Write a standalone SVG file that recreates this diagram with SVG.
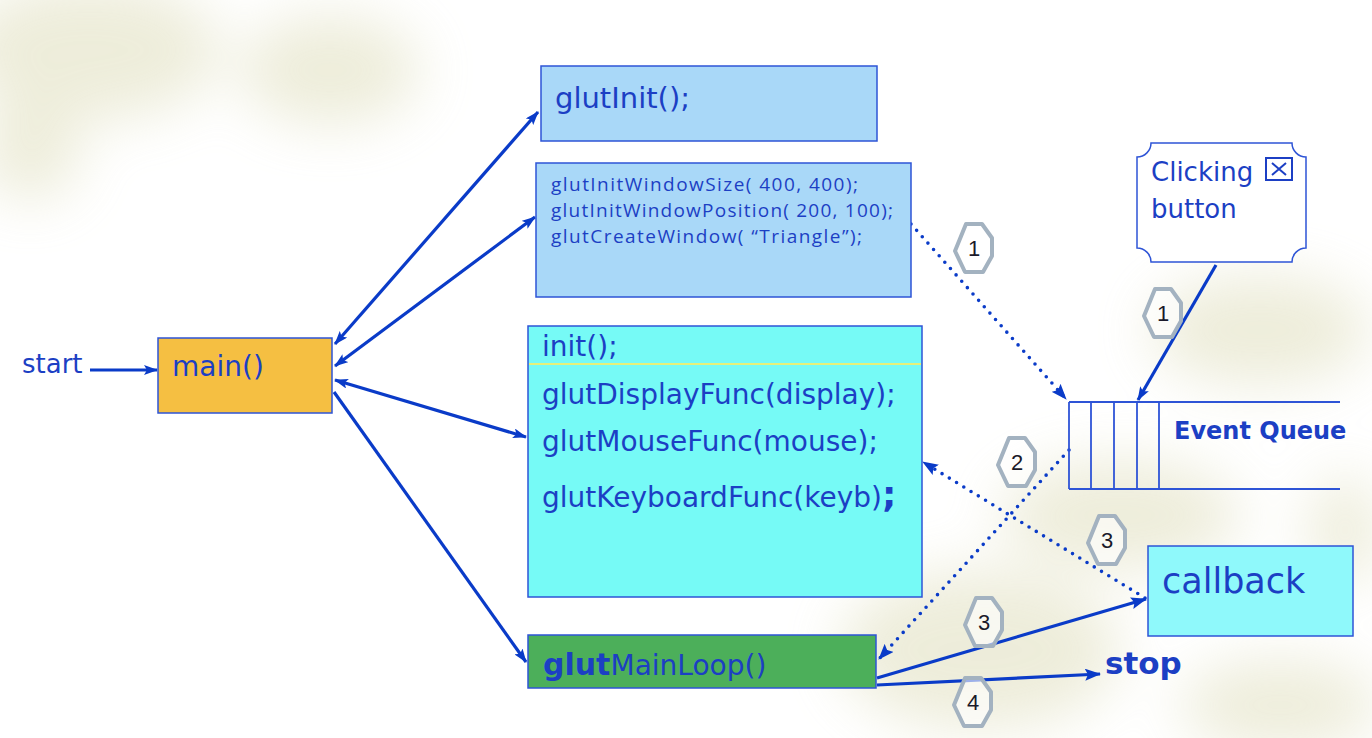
<svg xmlns="http://www.w3.org/2000/svg" width="1372" height="738" viewBox="0 0 1372 738">
<style>
.t{font-family:"DejaVu Sans",Verdana,sans-serif;fill:#1c3fc4}
.s{font-family:"Open Sans","DejaVu Sans",sans-serif;fill:#1c3fc4;font-size:19px}
.box{stroke:#2e54d6;stroke-width:1.5}
.solid{stroke:#0a3bc8;stroke-width:3.2;fill:none}
.dot{stroke:#0a3bc8;stroke-width:3.6;fill:none;stroke-dasharray:0 8.5;stroke-linecap:round}
.hept{fill:#ffffff;fill-opacity:0.6;stroke:#a3b2c0;stroke-width:4;stroke-linejoin:round}
.num{font-family:"Liberation Sans",Arial,sans-serif;font-size:22px;fill:#1a1a2a;text-anchor:middle}
</style>
<defs>
<marker id="ah" viewBox="0 0 14 10" refX="13" refY="5" markerWidth="14" markerHeight="10" markerUnits="userSpaceOnUse" orient="auto-start-reverse">
<path d="M0,0 L14,5 L0,10 L3,5 Z" fill="#0a3bc8"/>
</marker>
<marker id="ahd" viewBox="0 0 16 12" refX="15" refY="6" markerWidth="16" markerHeight="12" markerUnits="userSpaceOnUse" orient="auto">
<path d="M0,0 L16,6 L0,12 L3,6 Z" fill="#0a3bc8"/>
</marker>
<filter id="blur" x="-50%" y="-50%" width="200%" height="200%"><feGaussianBlur stdDeviation="28"/></filter>
<polygon id="hg" points="-8,-24 8,-24 18,-10 18,8 9,24 -9,24 -19,3"/>
</defs>
<rect width="1372" height="738" fill="#ffffff"/>
<g id="background" filter="url(#blur)" fill="#d6d4a8" opacity="0.42">
<ellipse cx="90" cy="50" rx="130" ry="70"/>
<ellipse cx="330" cy="70" rx="90" ry="55"/>
<ellipse cx="30" cy="150" rx="50" ry="50"/>
<ellipse cx="1260" cy="330" rx="110" ry="55"/>
<ellipse cx="1120" cy="515" rx="120" ry="55"/>
<ellipse cx="980" cy="650" rx="140" ry="80"/>
<ellipse cx="1280" cy="705" rx="100" ry="45"/>
<ellipse cx="1345" cy="530" rx="35" ry="55"/>
</g>

<g id="connectors">
<line class="solid" x1="90" y1="370" x2="157" y2="370" marker-end="url(#ah)"/>
<line class="solid" x1="335" y1="344" x2="538" y2="112" marker-start="url(#ah)" marker-end="url(#ah)"/>
<line class="solid" x1="335" y1="366" x2="535" y2="217" marker-start="url(#ah)" marker-end="url(#ah)"/>
<line class="solid" x1="335" y1="380" x2="526" y2="437" marker-start="url(#ah)" marker-end="url(#ah)"/>
<line class="solid" x1="334" y1="392" x2="526" y2="662" marker-end="url(#ah)"/>
<line class="solid" x1="1216" y1="265" x2="1138" y2="400" marker-end="url(#ah)"/>
<line class="solid" x1="877" y1="678" x2="1146" y2="599" marker-end="url(#ahd)"/>
<line class="solid" x1="877" y1="685" x2="1100" y2="674" marker-end="url(#ahd)"/>
<line class="dot" x1="911" y1="224" x2="1066" y2="399" marker-end="url(#ahd)"/>
<line class="dot" x1="1069" y1="450" x2="879" y2="659" marker-end="url(#ahd)"/>
<line class="dot" x1="1145" y1="598" x2="923" y2="462" marker-end="url(#ahd)"/>
</g>

<g id="start"><text class="t" x="22" y="373" font-size="26">start</text></g>

<g id="main">
<rect class="box" x="158" y="338" width="174" height="75" fill="#f5bf42"/>
<text class="t" x="172" y="376" font-size="28">main()</text>
</g>

<g id="glutInit">
<rect class="box" x="541" y="66" width="336" height="75" fill="#a9d8f8"/>
<text class="t" x="555" y="108" font-size="29">glutInit();</text>
</g>

<g id="window">
<rect class="box" x="536" y="163" width="375" height="134" fill="#a9d8f8"/>
<text class="s" x="551" y="191" textLength="307">glutInitWindowSize( 400, 400);</text>
<text class="s" x="551" y="217" textLength="342">glutInitWindowPosition( 200, 100);</text>
<text class="s" x="551" y="243" textLength="311">glutCreateWindow( “Triangle”);</text>
</g>

<g id="callbacks">
<rect class="box" x="528" y="326" width="394" height="271" fill="#76faf6"/>
<line x1="529" y1="364" x2="921" y2="364" stroke="#e6f07a" stroke-width="2"/>
<text class="t" x="542" y="356" font-size="28">init();</text>
<text class="t" x="542" y="404" font-size="28">glutDisplayFunc(display);</text>
<text class="t" x="542" y="451" font-size="28">glutMouseFunc(mouse);</text>
<text class="t" x="542" y="507" font-size="28">glutKeyboardFunc(keyb)<tspan font-size="36" font-weight="bold">;</tspan></text>
</g>

<g id="mainloop">
<rect class="box" x="528" y="635" width="348" height="53" fill="#4caf5a"/>
<text class="t" x="543" y="675" font-size="28"><tspan font-weight="bold" font-size="30">glut</tspan>MainLoop()</text>
</g>

<g id="clicking">
<path class="box" fill="#ffffff" d="M1151,143 L1292,143 A14,14 0 0 0 1306,157 L1306,248 A14,14 0 0 0 1292,262 L1151,262 A14,14 0 0 0 1137,248 L1137,157 A14,14 0 0 0 1151,143 Z"/>
<text class="t" x="1151" y="181" font-size="26">Clicking</text>
<text class="t" x="1151" y="218" font-size="26">button</text>
<rect x="1266" y="158" width="26" height="22" fill="none" stroke="#1c3fc4" stroke-width="2"/>
<path d="M1272,163 L1286,175 M1286,163 L1272,175" stroke="#1c3fc4" stroke-width="2"/>
</g>

<g id="queue" stroke="#2e54d6" stroke-width="1.8">
<line x1="1069" y1="402" x2="1340" y2="402"/>
<line x1="1069" y1="489" x2="1340" y2="489"/>
<line x1="1069" y1="402" x2="1069" y2="489"/>
<line x1="1091" y1="402" x2="1091" y2="489"/>
<line x1="1114" y1="402" x2="1114" y2="489"/>
<line x1="1137" y1="402" x2="1137" y2="489"/>
<line x1="1159" y1="402" x2="1159" y2="489"/>
<text class="t" x="1174" y="439" font-size="24" font-weight="bold" stroke="none">Event Queue</text>
</g>

<g id="callback">
<rect class="box" x="1148" y="546" width="205" height="90" fill="#8ff9fb"/>
<text class="t" x="1162" y="593" font-size="35">callback</text>
</g>

<g id="stop"><text class="t" x="1105" y="674" font-size="31" font-weight="bold">stop</text></g>

<g id="labels">
<g transform="translate(974,248)"><use href="#hg" class="hept"/><text class="num" y="8">1</text></g>
<g transform="translate(1163,313)"><use href="#hg" class="hept"/><text class="num" y="8">1</text></g>
<g transform="translate(1017,462)"><use href="#hg" class="hept"/><text class="num" y="8">2</text></g>
<g transform="translate(1107,540)"><use href="#hg" class="hept"/><text class="num" y="8">3</text></g>
<g transform="translate(984,622)"><use href="#hg" class="hept"/><text class="num" y="8">3</text></g>
<g transform="translate(973,702)"><use href="#hg" class="hept"/><text class="num" y="8">4</text></g>
</g>
</svg>
